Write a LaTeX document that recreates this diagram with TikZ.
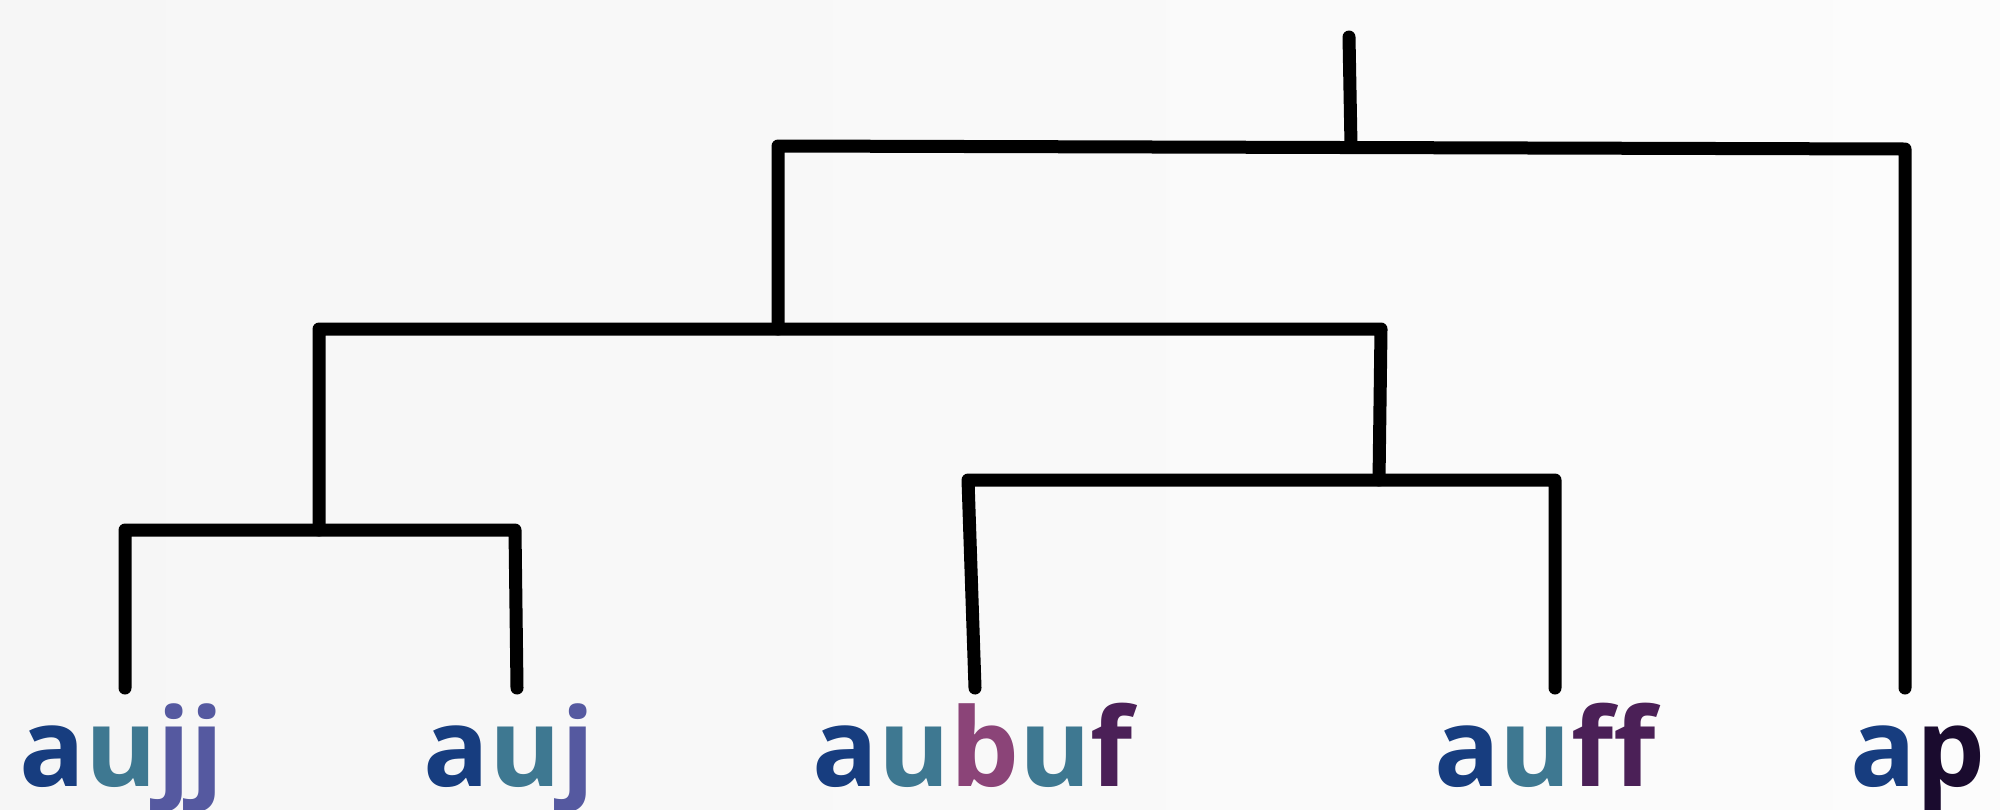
\documentclass[tikz,border=0pt]{standalone}
\usepackage{fontspec}
\setmainfont{Open Sans}
\definecolor{bga}{HTML}{F6F6F6}
\definecolor{bgb}{HTML}{FCFCFC}
\definecolor{ca}{HTML}{173D7F}
\definecolor{cu}{HTML}{3E7891}
\definecolor{cj}{HTML}{5559A0}
\definecolor{cb}{HTML}{8B4478}
\definecolor{cf}{HTML}{4B2057}
\definecolor{cp}{HTML}{1A0B2E}
\begin{document}
\begin{tikzpicture}[x=0.5pt,y=-0.5pt,
  link/.style={line width=6.5pt,line cap=round,line join=round,draw=black},
  lbl/.style={anchor=base,inner sep=0pt,font=\fontsize{54.5pt}{60pt}\selectfont\bfseries}]
\useasboundingbox (0,0) rectangle (2000,809);
\clip (0,0) rectangle (2000,809);
\shade[left color=bga,right color=bgb] (0,0) rectangle (2000,809);
% leaves
\coordinate (f1) at (125,688);
\coordinate (f2) at (517,688);
\coordinate (f3) at (975,688);
\coordinate (f4) at (1555,688);
\coordinate (f5) at (1905,688);
% junctions
\coordinate (d1l) at (125,530);
\coordinate (d1r) at (515,530);
\coordinate (d1m) at (319,530);
\coordinate (d2l) at (968,480);
\coordinate (d2r) at (1555,480);
\coordinate (d2m) at (1379,480);
\coordinate (d3l) at (319,329);
\coordinate (d3r) at (1381,329);
\coordinate (d3m) at (778,329);
\coordinate (d4l) at (778,146);
\coordinate (d4r) at (1905,149);
\coordinate (d4m) at (1351,146);
\coordinate (root) at (1349,37);
% labels
\node[lbl] (l1) at (122,786) {\textcolor{ca}{a}\textcolor{cu}{u}\textcolor{cj}{jj}};
\node[lbl] (l2) at (509,786) {\textcolor{ca}{a}\textcolor{cu}{u}\textcolor{cj}{j}};
\node[lbl] (l3) at (973,786) {\textcolor{ca}{a}\textcolor{cu}{u}\textcolor{cb}{b}\textcolor{cu}{u}\textcolor{cf}{f}};
\node[lbl] (l4) at (1545,786) {\textcolor{ca}{a}\textcolor{cu}{u}\textcolor{cf}{ff}};
\node[lbl] (l5) at (1918,786) {\textcolor{ca}{a}\textcolor{cp}{p}};
% tree
\draw[link] (f1) -- (d1l) -- (d1r) -- (f2);
\draw[link] (f3) -- (d2l) -- (d2r) -- (f4);
\draw[link] (d1m) -- (d3l) -- (d3r) -- (d2m);
\draw[link] (d3m) -- (d4l) -- (d4r) -- (f5);
\draw[link] (d4m) -- (root);
\end{tikzpicture}
\end{document}
